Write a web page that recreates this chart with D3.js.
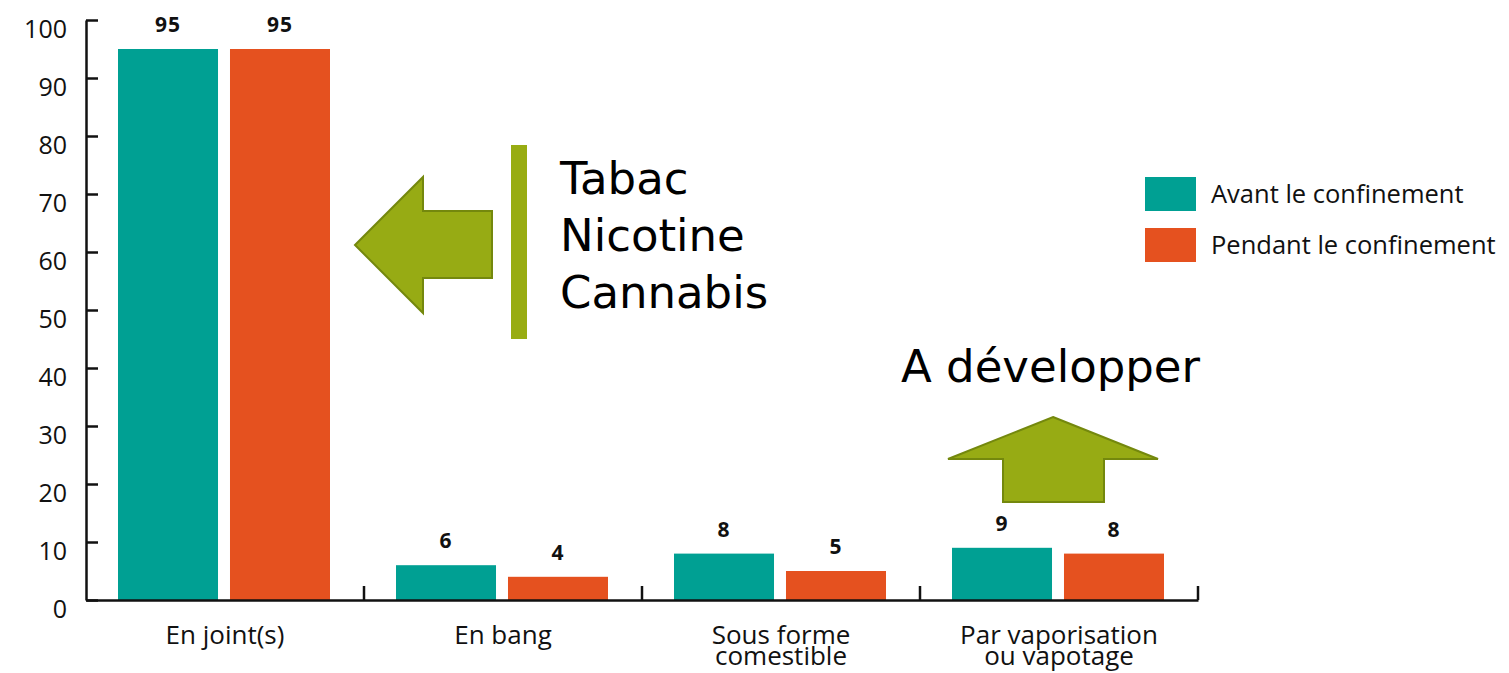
<!DOCTYPE html>
<html>
<head>
<meta charset="utf-8">
<script src="https://cdn.jsdelivr.net/npm/d3@7"></script>
<style>
  body { margin: 0; background: #fff; }
  svg text { font-family: "Open Sans", sans-serif; }
</style>
</head>
<body>
<div class="chart"></div>
<script>
// données du graphique
var categories = ["En joint(s)", "En bang", "Sous forme comestible", "Par vaporisation ou vapotage"];
var categoryLines = [["En joint(s)"], ["En bang"], ["Sous forme", "comestible"], ["Par vaporisation", "ou vapotage"]];
var series = ["Avant le confinement", "Pendant le confinement"];
var avant = [95, 6, 8, 9];
var pendant = [95, 4, 5, 8];
var yTicks = [0, 10, 20, 30, 40, 50, 60, 70, 80, 90, 100];
var colors = ["#00a093", "#e5511f"];

var width = 1509, height = 673;
var margin = {left: 86, top: 20, plotW: 1112, plotH: 580};

var svg = d3.select(".chart").append("svg")
    .attr("width", width)
    .attr("height", height);

var x0 = d3.scaleBand()
    .domain(categories)
    .range([margin.left, margin.left + margin.plotW])
    .padding(0);

var x1 = d3.scaleBand()
    .domain(series)
    .range([32, 244])
    .paddingInner(0.107);

var y = d3.scaleLinear()
    .domain([0, 100])
    .range([margin.top + margin.plotH, margin.top]);

var color = d3.scaleOrdinal().domain(series).range(colors);

var rows = categories.map(function(c, i){
    return {cat: c, lines: categoryLines[i], values: [
        {s: series[0], v: avant[i]},
        {s: series[1], v: pendant[i]}
    ]};
});

// barres
var groups = svg.selectAll("g.group")
    .data(rows)
    .enter().append("g")
    .attr("class", "group")
    .attr("transform", function(d){ return "translate(" + x0(d.cat) + ",0)"; });

groups.selectAll("rect")
    .data(function(d){ return d.values; })
    .enter().append("rect")
    .attr("x", function(d){ return x1(d.s); })
    .attr("y", function(d){ return y(d.v); })
    .attr("width", x1.bandwidth())
    .attr("height", function(d){ return y(0) - y(d.v); })
    .attr("fill", function(d){ return color(d.s); });

groups.selectAll("text.val")
    .data(function(d){ return d.values; })
    .enter().append("text")
    .attr("class", "val")
    .attr("x", function(d){ return x1(d.s) + x1.bandwidth() / 2; })
    .attr("y", function(d){ return y(d.v) - 17; })
    .attr("text-anchor", "middle")
    .style("font-weight", "bold")
    .style("font-size", "21px")
    .style("letter-spacing", "1px")
    .attr("fill", "#111")
    .text(function(d){ return d.v; });

// axe Y
var yAxis = svg.append("g")
    .attr("transform", "translate(" + margin.left + ",0)")
    .call(d3.axisLeft(y).tickValues(yTicks).tickSizeInner(-12).tickSizeOuter(0).tickPadding(19));

yAxis.select(".domain").attr("stroke", "#111").attr("stroke-width", 2.5);
yAxis.selectAll(".tick line").attr("stroke", "#111").attr("stroke-width", 2.5);
yAxis.selectAll(".tick text")
    .attr("dy", "0.68em")
    .attr("fill", "#111")
    .style("font-size", "25px")
    .style("font-family", "'Open Sans', sans-serif");

// axe X
var xAxis = svg.append("g")
    .attr("transform", "translate(0," + y(0) + ")")
    .call(d3.axisBottom(x0).tickSize(0).tickFormat(""));

xAxis.select(".domain").attr("stroke", "#111").attr("stroke-width", 2.5);

svg.append("g").selectAll("line")
    .data(categories)
    .enter().append("line")
    .attr("x1", function(d){ return x0(d) + x0.bandwidth(); })
    .attr("x2", function(d){ return x0(d) + x0.bandwidth(); })
    .attr("y1", y(0))
    .attr("y2", y(0) - 14)
    .attr("stroke", "#111")
    .attr("stroke-width", 2.5);

var xl = svg.append("g").selectAll("text")
    .data(rows)
    .enter().append("text")
    .attr("text-anchor", "middle")
    .attr("fill", "#111")
    .style("font-size", "26px")
    .attr("transform", function(d){ return "translate(" + (x0(d.cat) + x0.bandwidth() / 2) + "," + (y(0) + 44) + ")"; });

xl.selectAll("tspan")
    .data(function(d){ return d.lines; })
    .enter().append("tspan")
    .attr("x", 0)
    .attr("y", function(d, i){ return i * 21; })
    .text(function(d){ return d; });

// légende
var legend = svg.append("g").selectAll("g")
    .data(series)
    .enter().append("g")
    .attr("transform", function(d, i){ return "translate(1145," + (177 + i * 51) + ")"; });

legend.append("rect")
    .attr("width", 51)
    .attr("height", 34)
    .attr("fill", function(d){ return color(d); });

legend.append("text")
    .attr("x", 66)
    .attr("y", 26)
    .attr("fill", "#111")
    .style("font-size", "25.5px")
    .text(function(d){ return d; });

// annotations
var green = "#97ab14", greenDark = "#74880d";

svg.append("path")
    .attr("d", "M355,245 L423,177 L423,211 L492,211 L492,278 L423,278 L423,313 Z")
    .attr("fill", green)
    .attr("stroke", greenDark)
    .attr("stroke-width", 2);

svg.append("rect")
    .attr("x", 511).attr("y", 145)
    .attr("width", 16).attr("height", 194)
    .attr("fill", "#98ac12");

svg.append("text")
    .attr("x", 560)
    .attr("y", 194)
    .attr("fill", "#000")
    .style("font-family", "'DejaVu Sans', sans-serif")
    .style("font-size", "45px")
    .selectAll("tspan")
    .data(["Tabac", "Nicotine", "Cannabis"])
    .enter().append("tspan")
    .attr("x", 560)
    .attr("y", function(d, i){ return 194 + i * 57; })
    .text(function(d){ return d; });

svg.append("text")
    .attr("x", 901)
    .attr("y", 382)
    .attr("fill", "#000")
    .style("font-family", "'DejaVu Sans', sans-serif")
    .style("font-size", "45px")
    .text("A développer");

svg.append("path")
    .attr("d", "M1053,417 L1158,459 L1104,459 L1104,502 L1003,502 L1003,459 L948,459 Z")
    .attr("fill", green)
    .attr("stroke", greenDark)
    .attr("stroke-width", 2);
</script>
</body>
</html>
